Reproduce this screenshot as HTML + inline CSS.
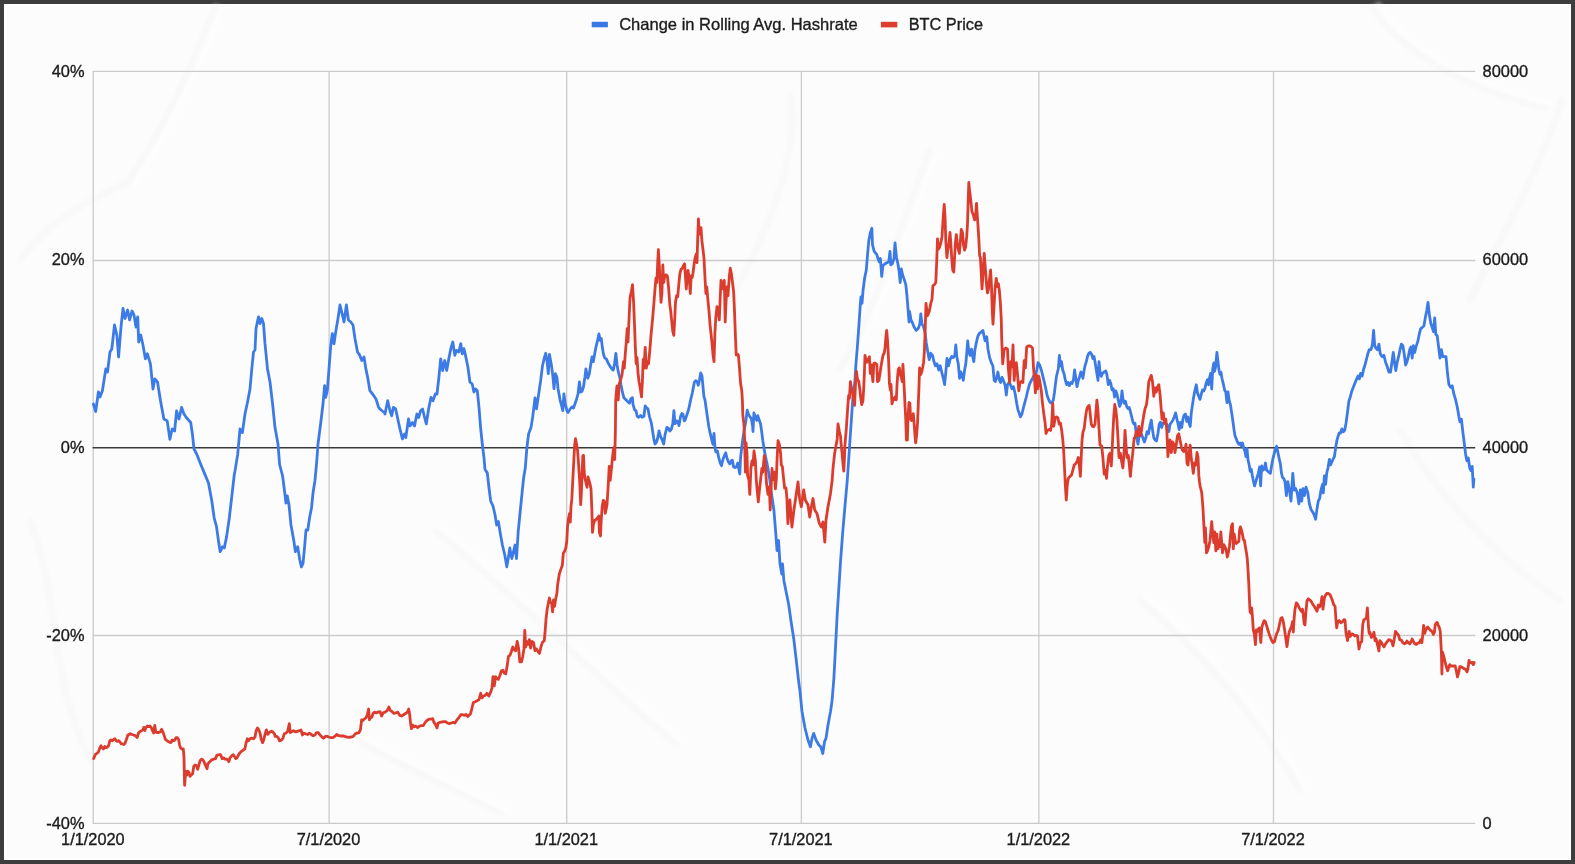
<!DOCTYPE html>
<html>
<head>
<meta charset="utf-8">
<title>Change in Rolling Avg. Hashrate vs BTC Price</title>
<style>
html,body{margin:0;padding:0;}
body{width:1575px;height:864px;overflow:hidden;background:#3d3d3d;font-family:"Liberation Sans",sans-serif;}
#frame{position:absolute;left:4px;top:4px;width:1567px;height:856px;background:#fcfcfc;box-shadow:inset 0 0 0 1px #ffffff;}
svg{position:absolute;left:0;top:0;filter:blur(0.45px);}
text{font-family:"Liberation Sans",sans-serif;font-size:16.4px;fill:#1c1c1c;stroke:#1c1c1c;stroke-width:0.35px;}
</style>
</head>
<body>
<div id="frame"></div>
<svg width="1575" height="864" viewBox="0 0 1575 864">
<!-- paper texture -->
<defs><filter id="soft" x="-20%" y="-20%" width="140%" height="140%"><feGaussianBlur stdDeviation="2.2"/></filter></defs>
<g filter="url(#soft)" fill="none" stroke-linecap="round">
<g stroke="#f2f2f2" stroke-width="5" opacity="0.45">
<path d="M216 6C196 55 170 120 128 182"/>
<path d="M128 182C90 200 55 215 20 260"/>
<path d="M435 530C520 600 600 680 676 744"/>
<path d="M360 742C410 770 455 790 502 814"/>
<path d="M1372 8C1405 55 1470 90 1545 108"/>
<path d="M1562 100C1540 170 1500 240 1470 300"/>
<path d="M930 150C900 230 880 300 840 370"/>
<path d="M790 95C800 150 770 230 730 300"/>
<path d="M1140 600C1200 650 1260 720 1300 790"/>
<path d="M1400 430C1440 500 1500 560 1560 600"/>
<path d="M30 520C60 600 50 680 90 760"/>
</g>
<g stroke="#ffffff" stroke-width="4" opacity="0.6">
<path d="M222 8C202 57 176 122 134 186"/>
<path d="M441 526C526 596 606 676 682 740"/>
<path d="M366 738C416 766 461 786 508 810"/>
<path d="M1378 4C1411 51 1476 86 1551 104"/>
<path d="M936 152C906 232 886 302 846 372"/>
<path d="M1146 596C1206 646 1266 716 1306 786"/>
</g>
</g>
<!-- gridlines -->
<g stroke="#cbcbcb" stroke-width="1.3" fill="none">
<line x1="92.6" y1="71.4" x2="1475.2" y2="71.4"/>
<line x1="92.6" y1="260.5" x2="1475.2" y2="260.5"/>
<line x1="92.6" y1="635.5" x2="1475.2" y2="635.5"/>
<line x1="92.6" y1="823.3" x2="1475.2" y2="823.3"/>
<line x1="93.2" y1="71.4" x2="93.2" y2="823.3"/>
<line x1="329.1" y1="71.4" x2="329.1" y2="823.3"/>
<line x1="566.7" y1="71.4" x2="566.7" y2="823.3"/>
<line x1="801.4" y1="71.4" x2="801.4" y2="823.3"/>
<line x1="1038.9" y1="71.4" x2="1038.9" y2="823.3"/>
<line x1="1273.5" y1="71.4" x2="1273.5" y2="823.3"/>
</g>
<line x1="92.6" y1="447.7" x2="1475.2" y2="447.7" stroke="#3a3a3a" stroke-width="1.35"/>
<!-- legend -->
<rect x="591.7" y="21.8" width="16.2" height="5.5" fill="#3877e6"/>
<text x="619.2" y="29.8" style="font-size:16.5px" textLength="238.5" lengthAdjust="spacingAndGlyphs">Change in Rolling Avg. Hashrate</text>
<rect x="880.9" y="21.8" width="16.4" height="5.6" fill="#de3c2d"/>
<text x="908.7" y="29.8" style="font-size:16.5px" textLength="74.3" lengthAdjust="spacingAndGlyphs">BTC Price</text>
<!-- left axis -->
<g text-anchor="end">
<text x="84.5" y="76.6">40%</text>
<text x="84.5" y="264.6">20%</text>
<text x="84.5" y="452.6">0%</text>
<text x="84.5" y="640.6">-20%</text>
<text x="84.5" y="828.6">-40%</text>
</g>
<!-- right axis -->
<g>
<text x="1482.6" y="76.6">80000</text>
<text x="1482.6" y="264.6">60000</text>
<text x="1482.6" y="452.6">40000</text>
<text x="1482.6" y="640.6">20000</text>
<text x="1482.6" y="828.6">0</text>
</g>
<!-- x axis -->
<g text-anchor="middle">
<text x="92.9" y="844.6" textLength="63.6" lengthAdjust="spacingAndGlyphs">1/1/2020</text>
<text x="328.5" y="844.6" textLength="63.6" lengthAdjust="spacingAndGlyphs">7/1/2020</text>
<text x="566.2" y="844.6" textLength="63.6" lengthAdjust="spacingAndGlyphs">1/1/2021</text>
<text x="800.9" y="844.6" textLength="63.6" lengthAdjust="spacingAndGlyphs">7/1/2021</text>
<text x="1038.4" y="844.6" textLength="63.6" lengthAdjust="spacingAndGlyphs">1/1/2022</text>
<text x="1273" y="844.6" textLength="63.6" lengthAdjust="spacingAndGlyphs">7/1/2022</text>
</g>
<!--CURVES--><g fill="none" stroke-linejoin="round" stroke-linecap="round" stroke-width="2.8">
<path id="blue" stroke="#3c7be6" d="M93.4 404L95.7 411.5L98.4 392L100 397L102.4 390.7L105.8 368.9L107.5 372L110 352L111.8 349L114.5 325L116.9 335.3L118.6 357L121 327L123 308.5L125 318.5L127.6 310L129.6 320L132 311L134 315L136 327L137.7 316.8L138.7 342L140.7 335L142.7 343.7L145.4 358.8L147.4 353.8L150.4 363.8L153 389L154.8 379L157.5 382L160.5 400.7L163.9 419L167.2 420.9L169.9 439.3L172.2 429L174.6 431L176.6 410.8L179 419L181.6 407.4L184 414L186.3 417.5L190.7 422.5L192.4 434L194 449L196.7 454L200.8 464.5L205 474.6L208.5 483L211.8 501L214.2 518L216.5 526.6L218.6 541.7L220.2 551.7L222.6 546.7L224.3 548L226.6 536.6L229.3 518L231.6 498L234.3 474.5L235 471L237.7 454.4L240 429L242.4 432.6L245 414L247.8 400.7L250 389L251.8 368.9L253.5 352L255 350L256 328.6L258.5 316.8L260 323.6L261.8 318.5L263.5 323.6L265 343.7L267.5 368.9L270 382L272.6 404L275 427.6L278 444L279.6 464.5L282.6 476L285 494.7L286 503L287.3 496L289 505L291 525L293.7 540L295.4 551.7L297.7 546.7L299.8 560L301.4 567L303 563.5L304.5 548L306 530L307.8 530L309.5 518L311.5 508L313 493L314.9 481L316.5 464.5L318 444L320.6 424L323 404L324.6 385.6L325.6 397.4L327.3 390.7L329 368.9L330.6 347L332.3 333.6L334 343.7L335.7 332L338 318.5L340 305L342.4 315L344 322L346.4 305L348.4 320L350.8 322L353 325L355 338.7L357.5 352L359.8 355.4L361.8 360.5L364 357L365.9 368.9L367.6 377L369.9 390.7L372.6 394L376 399L378.6 407.4L381 410L384.3 412.5L385 414L387.7 400.7L390 410.8L391.7 415.8L393.4 407.4L395.7 409L397.8 419L400 429L402.4 439L404.5 434L405.8 437.6L408.5 419L410 426L412.5 422.5L414.5 426L416.9 414L418.6 417.5L420.6 410.8L422.6 409L424.6 417.5L426.3 424L428.6 409L431 397.4L433 400.7L435.3 394L437 394L438.7 379L440.7 358.8L442.7 370.5L444.7 360.5L446.7 370.5L448.8 358.8L450.8 348.7L452.8 342L454.8 355.4L456.5 350.4L458.8 352L460.8 343.7L462.2 353.8L463.9 348.7L465.5 355.4L467.9 367L469.9 382L472.2 384L473.9 392L475.6 389L477.3 390.7L479 407.4L480.6 427.6L482.3 444L484 457.8L485 469.5L487.3 472.9L489 488L490.7 501L493 506L495 514.8L496.7 525L498.4 521.5L500 531.6L502.4 545L504.8 555L506.8 566.8L508.5 556.8L509.8 548L511.8 558.5L513.5 551.7L515 545L516.5 558.5L518.2 531.6L520.2 511.5L521.9 494.7L523.6 478L525.3 467.8L526.9 447.7L528.6 434L531 427.6L532.6 417.5L534.3 404L535 397.8L536.5 408.9L538.7 394L540.6 381L542.4 366.3L544.3 358L545.7 353.3L547.2 362.6L548.3 373.7L549.4 354.3L551.3 364.4L552.8 375.6L554 388.5L555.4 373.7L556.9 377.4L558 388.5L560 399.6L561.9 407L562.8 410.7L563.9 394L565.2 403.3L566.9 410.7L568 412.6L570.2 408.9L572 407L573.5 408L574.8 404.3L576.7 398.7L578 394L579.4 382L580.7 392L582 391.3L583.5 386.7L585 376.5L585.9 369L587.8 378.3L589.3 373.7L590.6 365.4L592 357L593.3 361.7L594.6 354.3L596 346.9L597.6 340.4L598.9 333.9L600.2 340.4L601.3 338.5L602.4 347.8L603.5 354.3L604.8 358L606.3 358.9L608 362.6L610 366.3L611.9 369L613.3 370L614.6 363.5L615.9 353.3L617 364.4L618.3 371.9L619.8 377.4L621 384.8L622.4 392.2L623.9 397.8L625.7 399.6L627.6 401.5L629.4 403.3L630.9 398.7L632.4 397.8L633 404.3L634.6 409.8L636 410.7L637.2 416.3L638.7 417.2L640.6 415.4L642 417.2L643.9 416.3L645.2 406L646.7 408L648 408.9L649.4 416.3L651.3 422.8L652.6 431L653.9 439.4L655 444L656.5 442.2L657.6 438.5L659 431L660.6 436.7L662 439.4L663.7 444L665 434.8L666.9 427.4L668.3 428.3L669.8 431L671.3 429.3L672.8 423.7L673.9 410.7L675 423.7L676.7 420.9L678 421.9L679 425.6L680.6 416.3L681.9 413.5L683 414.4L684.3 420.9L685 420.4L686.9 414.8L688.7 409.3L690.6 400L692.4 392.6L694.3 382.4L695.7 380.6L697 381.5L698.3 385.2L699.4 380.6L700.7 373L702 375.9L703 387L703.9 396.3L705 400L706.3 409.3L707.6 418.5L709 427.8L710.6 435.2L712 440.7L713 444.4L714 433.3L715 448L715.9 451.9L717.4 451L718.7 457.4L720.2 463L721.5 465.7L723 459.3L724.4 455.6L725.7 452.8L727 458.3L728.5 462L729.8 463.9L731.3 461L732.4 460.2L733.5 466.7L735 467.6L736.5 466.7L737.8 463L738.7 468.5L739.8 474L740.6 457.4L741.7 448L742.8 438.9L744.3 429.6L745.7 422.2L747.2 410.2L748.3 413.9L749.8 416.7L751.3 418.5L752.6 425.9L753 431.5L753.9 413L755.4 416.7L756.7 420.4L757.8 415.7L759 419.4L760.6 424L761.9 433.3L762.8 440.7L764.3 450L765.6 457.4L766.9 463L768.3 470.4L769.8 479.6L771 490.7L772.4 500L773.9 510L775.8 533.7L777 550.5L778.5 540.4L780 563.9L781.8 574L782.5 563.9L783.9 580.7L785.9 590.7L788.6 604L791 621L793.6 637.7L796 657.9L798.6 681L800 691.4L802 711.5L805 728L808 740L810.4 746.8L812 738.4L813.7 733.4L816 740L818.8 745L820.8 746.8L822.8 753.5L824.5 741.7L826 738.4L828 725L830.5 711.5L832 701.5L833.9 678L835.5 647.8L837.2 614L838.9 587.4L840.6 560.5L842.9 530L844.9 506.8L847.3 480L852.7 400L854.8 382.5L855.8 365.8L857.5 345L859 324L860.4 303.3L861 297L862 303.3L863 290.8L864.6 278.3L866.3 270L867.3 257.5L868.8 240.8L870.4 232.5L871.9 228.3L872.5 245L874.2 251.3L876.7 254.4L878 258.5L879.2 261.7L880.4 258.5L881.7 276.3L882.9 265.8L885 263.8L887 262.7L888.8 261.7L890 251.3L890.8 264.8L892.3 263.8L894 258.5L895 242.9L896.5 257.5L897.9 263.8L899.2 272L900.2 282.5L901.3 269L902.7 275.2L904.2 279.4L905.8 284.6L906.9 295L907.9 307.5L909 322L909.6 311.7L911 320L912.5 323L914.2 327.3L916.3 330.4L918.3 328.3L919.8 324.2L920.8 313.8L922 324.2L923.5 326.3L925 332.5L926.3 342.9L927.7 351.3L929.2 359.6L930.8 353.3L932.5 355.4L934 361.7L935.4 365.8L937 363.8L938.8 370L940.2 365.8L941.7 372L943.3 378.3L944.6 384.6L946 370L947 358.5L948.5 365.8L950 359.6L951.7 356.5L953.3 357.5L954.8 355.4L955.8 345L956.9 357.5L958.3 363.8L959.6 378.3L960.8 372L962 375.2L963.3 380.4L964.6 370L965.8 363.8L966.9 351.3L967.7 340.8L968.8 351.3L970 355.4L971.5 349.2L972.5 355.4L973.8 361.7L975 349.2L976.3 342.9L977.7 336.7L979.2 333.5L980.8 332.5L982.9 330.4L984.2 336.7L985 340.8L986.7 336.7L988 349.2L989.6 357.5L991.3 362.7L992.9 365.8L994.2 380.4L995.4 381.5L996.9 376.3L997.9 372L999.2 379.4L1000.6 382.5L1002 377.3L1003.8 381.5L1005.2 385.6L1006.3 395L1007.5 384.6L1009 382.5L1010.4 384.6L1012 388.8L1013.5 386.7L1015.2 394L1016.7 403.3L1017.9 409.6L1019.4 413.8L1020.4 416.9L1022 413.8L1023.5 407.5L1024.6 403.3L1026.3 397L1027.7 390.8L1029.4 384.6L1030.8 381.5L1032.5 378.3L1034 375.2L1035.4 376.3L1036.7 370L1038 362.7L1039.6 364.8L1041.3 370L1042.9 376.3L1044.4 382.5L1045.8 388.8L1047 395L1048.5 399.2L1050 402.3L1051.7 403.3L1053.3 400.2L1054.4 392.9L1055.4 384.6L1056.5 376.3L1057.5 372L1058.3 369L1059.4 355.4L1060.4 365.8L1061.5 361.7L1062.7 370L1064.2 374.2L1065.4 380.4L1066.7 384.6L1067.9 382.5L1069.4 385.6L1070.8 382.5L1072 383.5L1073.5 379.4L1074.6 370L1075.8 378.3L1077 386.7L1078.3 380.4L1079.8 376.3L1080.8 372L1082 373L1082.9 378.3L1084 371L1085 365.8L1086.3 361.7L1087.5 356.5L1088.8 353.3L1090.2 352.3L1091.7 354.4L1092.9 358.5L1094 356.5L1095 361.7L1096 367.9L1097 374.2L1098 380.4L1099 361.7L1100 372L1101.3 376.3L1102.7 373L1104.2 372L1105.8 371L1107 375.2L1108.3 384.6L1109.6 380.4L1110.8 383.5L1112 389.8L1113.3 388.8L1114.6 397L1115.8 390.8L1117 394L1118.3 400.2L1119.6 406.5L1120.8 403.3L1122 390.8L1123 399.2L1124.2 403.3L1125.4 401.3L1126.7 406.5L1127.9 408.5L1129.2 407.5L1130.4 411.7L1131.7 416.9L1132.9 422L1134.2 424.2L1135 423.3L1136.7 437.9L1138 444.2L1139.6 431.7L1141.3 433.8L1142.9 437.9L1144.4 442L1145.8 437.9L1147 431.7L1148.5 433.8L1150 425.4L1151.3 420.2L1152.5 429.6L1153.8 437.9L1155.2 440L1156.5 441L1157.9 433.8L1159.2 424.4L1160.4 422.3L1161.7 427.5L1163 423.3L1164.6 422.3L1165.8 423.3L1167.3 425.4L1168.8 431.7L1170 424.4L1171.5 422.3L1172.9 420.2L1174.2 417L1175.6 412.9L1176.7 418L1177.9 423.3L1179.2 429.6L1180.4 422.3L1181.7 427.5L1182.9 419.2L1184.2 415L1185.4 414L1186.7 421.3L1187.9 417L1189.2 423.3L1190.2 426.5L1191.3 412.9L1192.5 404.6L1193.8 396.3L1195 390L1196.3 384.8L1197.5 393L1198.8 396.3L1200 399.4L1201.3 394.2L1202.5 390L1203.8 391L1205 387.9L1206.3 382.7L1207.5 379.6L1208.5 384.8L1209.6 377.5L1210.6 373.3L1211.7 389L1212.7 369.2L1213.8 362.9L1214.6 371.3L1215.6 367L1216.9 352.5L1217.9 360.8L1219 370.2L1220 374.4L1221 372.3L1222 378.5L1223.3 383.8L1224.6 390L1225.8 392L1227 402.5L1228 392L1229.2 400.4L1230.4 404.6L1231.7 412.9L1232.9 421.3L1234 429.6L1235 435.8L1236.3 439L1237.5 442L1238.8 444.2L1240.2 443L1241.3 446.3L1242.5 443L1243.8 448.3L1245 451.5L1246 456.7L1247 448.3L1248 459.8L1249.2 465L1250.2 471.3L1251.3 469.2L1252.3 475.4L1253.3 480.6L1254.6 485.8L1255.8 481.7L1257 477.5L1258.3 473.3L1259.6 467L1260.6 485.8L1261.7 466L1262.9 470.2L1264.2 469.2L1265.4 463L1266.7 470.2L1267.9 471.3L1269.2 472.3L1270.4 473.3L1271.7 465L1272.9 458.8L1274.2 453.5L1275.4 449.4L1276.7 446.3L1277.9 452.5L1279.2 458.8L1280.4 464L1281.5 473.3L1282.5 477.5L1283.8 478.5L1285 481.7L1286.4 495.6L1287.8 481.7L1289.4 490L1291 501L1292.8 473.3L1294.2 490L1295.6 488.6L1297.2 492.8L1298.9 503.9L1300.3 490L1301.7 501L1303 488.6L1304.4 495.6L1306 487.2L1307.8 492.8L1309.4 503.9L1311 509.4L1312.8 512.2L1314.2 515L1315.6 519.2L1316.9 509.4L1318.3 501L1319.7 498.3L1321 490L1322.5 484.4L1323.3 492.8L1324.4 476L1325.6 484.4L1326.7 473.3L1328 467.8L1329.4 459.4L1330.6 465L1331.7 462.2L1333 459.4L1334.4 456.7L1335.6 448.3L1336.7 441.4L1337.8 437.2L1339.2 433L1340.6 433L1341.9 428.9L1343.3 431.7L1344.7 430.3L1346 423.3L1347.5 412.2L1348.9 401L1350.3 396.9L1351.7 391.4L1353.3 387.2L1355 383L1356.7 378.9L1358 376L1359.4 378.9L1360.6 373.3L1362.2 376L1363.6 369.2L1365 365L1366.4 359.4L1367.8 353.9L1369.2 349.7L1371 349.7L1372.5 344.2L1373.6 330.3L1374.7 345.6L1376 348.3L1377.5 349.7L1378.9 344.2L1380.3 353.9L1382.2 356.7L1383.9 355.3L1385.6 362.2L1387.2 366.4L1388.9 372L1390.6 372L1391.9 362.2L1393.3 352.5L1394.7 363.6L1395.8 370.6L1397.2 362.2L1398.6 356.7L1400 349.7L1401.4 344.2L1402.8 345.6L1404.2 353.9L1405.6 365L1406.9 362.2L1408.3 356.7L1409.7 349.7L1411 346.9L1412.2 358L1413.3 345.6L1414.7 352.5L1416 346.9L1417.8 341.4L1419.2 334.4L1420.6 328.9L1422.2 327.5L1423.9 326L1425.3 317.8L1426.7 310.8L1428 302.5L1429.4 315L1430.8 323.3L1432.2 327.5L1433.6 331.7L1434.7 317.8L1435.8 334.4L1437.2 335.8L1438.6 346.9L1440 358L1441.4 349.7L1442.8 356.7L1444.4 356.7L1446 356.7L1447.5 373.3L1448.9 384.4L1450.6 387.2L1452.2 385.8L1453.9 394.2L1455.6 399.7L1457.2 406.7L1458.9 416.4L1460 421.9L1461.4 419.2L1462.8 431.7L1464.2 442.8L1465.6 453.9L1466.9 460.8L1468.3 458L1469.7 467.8L1471 470.6L1472.2 466.4L1473.3 487.2L1473.9 478.9"/>
<path id="red" stroke="#dc3c2e" d="M93.7 758.6L95.2 754.7L96.7 753.5L98.4 752.2L99.6 748.4L100.9 745.8L102.2 747.7L103.5 749L104.7 746.5L106 747.7L107.3 747.1L108.6 745.8L109.8 740.7L111 740L112.4 740.7L113.6 739.5L114.9 738.8L116.2 740.7L117.5 741.4L118.7 740.7L120 742L121.3 743.9L122.6 743.9L123.8 744.6L125 743.3L126.4 739.5L127.6 735.6L128.9 734.4L130.2 733.7L131.5 734.4L133.4 735L135.3 735.6L137.2 737.6L138.5 733L139.7 731.8L141.7 730.6L142.9 729.9L143.8 727.4L144.8 730.6L146 727.4L147.4 726L148.7 726.7L149.9 726L151.2 727.4L152.5 730.6L153.7 733L154.8 725.5L155.7 731.8L156.9 732.5L158.8 732.5L160.4 731.8L161.6 729.3L162.9 731.8L164.2 735.6L165.5 739.5L167 740.7L169 742L170.9 742.6L172.2 740L173.5 740.7L174.8 740L176 737.6L177.3 737.6L178.6 739.5L179.5 744.6L180.5 747.7L181.8 749L183.3 749L184 757.3L184.6 785.3L185.3 776.4L186.2 771.3L187 775L188 771.3L189 772.6L190 776.4L191.3 775L192.6 773.8L193.8 766.2L195 765L196.4 765.6L197.7 769.4L198.9 765L200.2 760.5L201.5 759.2L202.8 759.8L204 761.7L205.3 765L207 768.7L207.9 763.7L209.8 761.7L211.7 759.8L213.6 759.2L215.5 758.6L216.8 755.4L218.7 754.7L220.6 754.7L222.2 758.6L223.8 757.9L225 759.2L227 759.2L228.9 761.7L230 757.9L232 755.4L233.3 754.7L234.6 756.7L235.9 758.6L237 757.9L239 754L241 751.6L242.9 750.3L244.8 749L246 743.3L247.3 738.8L248.6 740.7L249.9 738.8L251.8 738.2L253.7 738.8L255 736.9L256.2 730.6L257.5 728L258.8 729.9L260 733L261.3 739.5L262.6 742.6L263.9 739.5L265 734.4L266.4 729.9L267.7 734.4L269 733L270.2 731.8L271.5 731.2L273.4 732.5L274.7 734.4L275 736.4L276.9 736.4L278.2 737.7L279.5 740.8L281.4 740.2L282.9 738.3L284.2 733.8L285.8 733.2L287.7 731.3L289.3 723.7L290.3 732.6L291.5 731.9L293.5 730.7L295.4 731.9L297.3 731.3L299.2 730.7L301 730L302.4 735L303.6 733.2L305.6 733.8L307.5 734.5L309.4 733.2L311.3 734.5L313.2 735.7L315 735L316.4 732.6L318.3 732.6L319.6 734.5L321.5 736.4L323.4 738.3L325.3 736.4L327.2 736.4L329 737L331 737.7L332.9 737.7L334.8 736.4L336.7 734.5L338.7 735.7L341.2 736L343.7 736L346.3 736.8L348.8 737.4L351.4 737L353.3 736.4L355.2 733.8L357 733.2L359 732.6L360.5 729.4L361.6 719.8L362.8 720.5L364 719.2L366 717.9L367.3 714.7L368.6 709L369.5 719.8L370.5 717.3L371.8 717.3L373 713.5L374.3 712.2L376.2 712.8L378 712.2L380 711.6L381.6 716L383.2 712.8L385 712.2L387 710.9L388.9 707L390.2 710.3L392 711.6L394 713.5L396 712.8L397.8 712.2L399.8 715.4L401.7 716L403.6 714.7L405.5 713.5L407.4 712.2L408.7 709L409.7 714.7L410.6 723.7L411.5 728.7L412.5 724.9L413.8 726.8L415.7 726.2L417.6 727.5L419.5 726.2L421.4 725.6L423.3 725.6L425.2 722.4L427 720.5L429 719.2L431 719.2L432.6 718.6L434 722.4L435.7 724.9L437 728L438.2 723L439.9 722.4L441.8 722L443.7 721.7L445.6 721.7L447.5 723L449.4 723.7L451.3 723L453.2 722.4L455 723L457 719.8L459 717.3L460.9 714.7L462.8 714.7L464.7 715.4L466 714.5L467.8 716.5L470.6 713.7L472 708L473.3 702.6L475.2 701.7L477 700.7L478.9 699.8L480.7 693.3L482 698L483.5 696L485.4 695.2L486.9 693.3L488.7 696L490.6 692.4L492 687.8L493 676.7L494.3 685.9L495.6 676.7L496.9 678.5L498.3 679.4L499.8 675.7L501.3 671L502.8 670.2L504.3 673L505.7 673.9L507.2 665.6L508.5 656.3L510 655.4L511.3 651.7L512.8 647L514.3 649.8L515.7 650.7L517.2 641.5L518.7 648.9L519.8 661.9L521.5 661.9L522.8 656.3L523.9 648.9L524.8 630.4L525.7 647L527 641.5L528.3 644.3L529.4 639.6L530.6 648L532 641.5L533.5 642.4L535 650.7L536.5 648.9L538 651.7L539.4 653.5L540.9 647L542.4 642.4L544.3 640.6L545.2 630.4L546 619.3L547.2 609L548.3 603.5L549.4 598L550.6 602.6L551.7 603.5L552.6 611.9L553.5 599.8L554.6 606.3L555.7 598.9L556.9 593.3L557.6 585L559.3 574L561 568.9L562.3 565.4L563.3 553.3L564.5 551.5L565.8 548L566.8 541L567.5 527.2L568.5 518.5L569.6 513.3L570.3 522L571 506.4L571.8 499.4L572.7 482L573.8 461.3L574.6 445.6L575.5 438.7L576.5 443.9L577.6 450.8L578.6 464.7L579.7 482L580.7 504.7L581.4 492.5L582 475L582.8 456L583.5 455.2L584.2 471.7L584.9 478.6L585.9 482L587 487.3L588 476.9L589 480.3L590 483.8L591 489L591.8 508L592.5 532.4L593.5 523.8L594.9 520.3L596.3 519.4L597.7 517.7L598.8 516L599.4 532.4L600.5 536L601.2 520.3L602.2 506.4L603.3 500.3L604.3 501.2L605.3 513.3L606.4 508L607 504.7L607.8 492.5L608.5 480.3L609.2 466.5L610.2 480.3L611.3 470L612.3 459.5L613.2 450.8L614 447.4L614.7 459.5L615.4 430L615.7 400L616.5 390.4L617 385.8L618.2 400L619.3 383.6L620.8 379.2L622 374.8L623.5 361.6L624.3 368.2L625.2 355L626.3 341.9L627.2 328.7L628 341.9L629.2 315.5L630 297.9L631.4 291.3L632.5 284.7L633.6 302.3L634.5 324.3L635.3 346.3L636.2 363.8L637 357.3L638 372.6L639 381.4L640.2 388L641.5 396.8L642.4 381.4L643.2 359.5L644 368.2L645.2 347.4L646.3 368.2L647.4 361.6L648.5 363.8L649.8 350.7L651 335.3L652.5 319.9L653.8 304.5L655 289L656 278L656.9 282.5L657.7 262.7L658.4 249.6L659.3 265L660.2 284.7L661 302.3L661.9 293.5L662.8 265L663.7 282.5L664.8 276L666 274.8L667.4 276L668.7 289L669.8 304.5L670.7 311L671.6 319.9L672.7 330.9L673.8 335.3L674.7 319.9L675.5 302.3L676.6 295.7L677.7 296.8L678.8 284.7L679.9 273.7L681 269.3L682.4 268.2L683.7 265L684.6 263.8L685.4 276L686.3 289L687.2 276L688 270.4L689.2 278L690.3 293.5L691.2 276L692 278L692.9 273.7L694 265L695 258.4L696.2 254L697 262.7L697.7 238.6L698.4 218.8L699.3 232L700.2 234.2L701 227.6L701.9 240.8L703 249.6L704 258.4L705 278L705.9 293.5L706.8 286.9L707.9 300L709 311L710 324.3L711.2 335.3L712.3 346.3L713 355L714 361.6L714.9 333L715.8 317.7L717 306.7L718.2 311L719.3 319.9L720.2 297.9L721 280.3L722 282.5L723.2 289L724.3 280.3L725.2 322L726 302.3L727 286.9L728 295.7L729.2 278L730.3 268.2L731.4 273.7L732.5 282.5L733.6 291.3L734.5 311L735.3 333L736.2 355L737.3 354L738.4 355L739.5 368.2L740.6 383.6L741.7 390.2L742.4 400L742.8 414.8L743.9 424L744.6 438.9L745.4 472.2L746 442.6L747 453.7L747.6 475.9L748.9 479.6L749.8 494.4L750.9 468.5L752 461L753 464.8L754 451L755.4 461L756.3 479.6L757.2 490.7L758.3 501.9L759.4 490.7L760.6 479.6L761.9 468.5L762.8 472.2L764.3 455.6L765.6 468.5L766.5 483.3L768 494.4L769.3 487L770.2 510L771 490.7L772 468.5L773 479.6L774.3 472.2L775.4 488.9L776.3 479.6L777 461L778 440.7L779.4 444.4L780.6 453.7L781.3 464.8L782.4 466.7L783.5 477.8L784.6 488L786 488L786.9 498L787.9 523.6L789.9 500L791.9 527L793.9 510L795.9 496.8L798 482L799.6 498.5L801.3 506.8L803.7 490L805.3 500L808 505L809.7 517L811.4 506.8L813 498.5L814.7 510L817 513.6L819.4 523.6L821.4 527L823 522L824.8 542L826 520L828 506.8L830.5 493.4L832.2 480L833 468.5L834.6 453.7L835.9 446.3L837.2 438.9L838 424L839.4 431.5L840.5 436L841 442.8L842 452.5L843 464L843.8 471L844.5 458L844.9 445.6L846.3 428.9L847.6 409.4L848.6 395.6L849.4 398.3L850.4 381.7L851.4 387.2L852.5 392.8L853.6 399.7L854.6 405.3L855.6 381.7L856.4 371.3L857.4 378.9L858.8 381.7L859.9 390L860.8 398.3L861.7 404.6L862.9 401L863.6 390L864.4 373.3L865 355.3L866 360.8L867 362.2L868.2 359.4L869.4 356.7L870.3 373.3L871.3 365L872 373.3L872.9 381.7L873.8 363.6L874.7 362.9L875.8 363.6L876.8 364.3L877.5 381.7L878.9 380.3L880 373.3L881 366.4L882 360.8L883 355.3L884.2 353.2L885 348.3L885.8 338L886.7 330.4L887.5 340L888.3 353.9L888.9 367.8L889.4 383L890.3 390L891 384.4L892 403.9L893.2 398.3L894.2 399.7L895 396.9L896.3 399.7L897.2 381.7L898.3 369.2L899.3 367.8L900.4 374.7L901.4 377.5L902.2 381.7L902.9 364.3L903.6 376L904.3 390L905 405.3L905.7 417.8L906.4 440L907.4 440L908 417.8L909 402.5L909.9 403.2L910.6 419.2L911.5 420.6L912.5 419.9L913.3 413.6L914.3 426L915 435.8L915.7 442.8L916.7 434.4L917.5 423.3L918.2 406.7L918.9 388.6L919.6 367.8L920.6 374.7L921.7 372L922.6 367.8L923.6 362.2L924.4 351L925 335L926 303.3L927.5 315.8L929.2 311.7L930.8 303.3L932 299.2L932.9 285.6L934.4 284.6L935.8 282.5L936.7 261.7L937.5 238.8L938.5 249.2L939.6 247L940.8 242.9L942 236.7L943.3 215.8L944.2 204.4L945 215.8L945.8 240.8L946.9 257.5L947.9 249.2L949 242.9L950 232.5L950.8 242.9L951.7 257.5L952.7 270L953.8 272L954.6 257.5L955.4 242.9L956.3 234.6L957.3 242.9L958.3 249.2L959.4 253.3L960.4 240.8L961.3 229.4L962.5 232.5L963.5 245L964.6 250.2L965.6 247L966.7 236.7L967.5 224.2L968 207.5L968.8 182.5L969.6 190.8L970.4 197L971.3 205.4L972 211.7L973.3 214.8L974.6 220L975.6 215.8L976.5 203.3L977 211.7L977.9 224.2L978.8 238.8L979.6 255.4L980.4 257.5L981.3 274.2L982 288.8L983 274.2L984.2 253.3L985 263.8L985.8 274.2L986.7 286.7L987.5 292.9L988.5 288.8L989.6 278.3L990.6 270L991.5 286.7L992.3 311.7L993 324.2L994.2 303.3L995.2 286.7L996.3 278.3L997.3 286.7L998.3 283.5L999.4 290.8L1000.4 303.3L1001.3 320L1001.7 338.8L1002.7 363.8L1004.2 349.2L1005.8 348L1007.5 349.2L1008.3 367.9L1009.6 382.5L1010.8 361.7L1012 366.9L1013 345L1014.2 380.4L1015.2 367.9L1016.3 362.7L1017.5 374.2L1018.8 390.8L1020 382.5L1021.5 381.5L1022.9 382.5L1024.2 360.6L1025.4 367.9L1026.7 347L1028.3 346L1030.4 346L1032.5 348L1033.5 367.9L1034.6 380.4L1035.4 392.9L1036.5 375.2L1037.5 388.8L1038.8 376.3L1040 382.5L1041.3 390.8L1042.5 403.3L1043.8 413.8L1045 422L1046 433.5L1047.5 430.4L1049.2 429.4L1050.6 430.4L1051.7 424.2L1052.7 403.3L1053.8 426.3L1055.2 417.9L1056.5 416.9L1057.9 417.9L1059.2 424.2L1060.4 423L1061.7 430.4L1062.9 440.8L1063.8 453.3L1064.6 470L1065.4 486.7L1066.3 500L1067.3 484.6L1068.3 478.3L1070 476.3L1071.5 475.2L1072.9 470L1074.2 464.8L1075.6 463.8L1077 461.7L1078.3 457.5L1079.4 465.8L1080.4 476.3L1081.3 455.4L1082 440.8L1082.9 432.5L1084.2 428.3L1085.4 417.9L1086.7 409.6L1087.9 406.5L1089.2 405.4L1090.2 413.8L1091.3 424.2L1092.5 426.3L1093.8 426.7L1095 424.2L1096 411.7L1096.9 400.2L1097.9 409.6L1099 428.3L1100 445L1101.7 446L1102.9 457.5L1104.2 474.2L1105.4 470L1106.5 478.3L1107.5 465.8L1108.8 455.4L1110 453.3L1111.3 465.8L1112 453.3L1112.9 432.5L1113.8 415.8L1114.8 404.4L1115.8 409.6L1116.9 420L1117.9 436.7L1119 457.5L1120.4 453.3L1121.7 461.7L1122.9 467.9L1124 453.3L1125 430.4L1126 445L1127 457.5L1128.3 455.4L1129.4 465.8L1130.4 476.3L1131.5 463.8L1132.5 455.4L1133.5 445L1134.2 438L1135 437.9L1136.3 431.7L1137.5 435.8L1138.8 426.5L1140.2 435.8L1141.3 431.7L1142.5 423.3L1143.8 415L1145 408.8L1146.5 404.6L1147.5 396.3L1148.8 381.7L1150 378.5L1151.3 375.4L1152.5 381.7L1153.8 396.3L1155 387.9L1156.3 392L1157.5 386.9L1158.8 384.8L1160 394.2L1161 406.7L1162 419.2L1163.3 412.9L1164.6 423.3L1165.8 419.2L1166.9 431.7L1167.9 456.7L1169 446.3L1170 440L1171.3 452.5L1172.5 442L1173.8 444.2L1175 452.5L1176.3 444.2L1177.5 435.8L1178.8 433.8L1180 440L1181.3 446.3L1182.5 450.4L1183.8 451.5L1185 449.4L1186 444.2L1187 463L1188 465L1189.2 452.5L1190.2 445.2L1191.3 458.8L1192.3 465L1193.3 473.3L1194.6 463L1195.8 465L1197 452.5L1198 456.7L1198.8 475.4L1199.5 482L1200.2 486.3L1201.7 492.5L1202.9 507L1204 527.9L1204.8 542.5L1205.4 527.9L1206.5 552.9L1207.5 550.8L1208.8 546.7L1210 540.4L1210.8 532L1211.7 521.7L1212.7 534.2L1213.8 542.5L1214.8 532L1215.8 550.8L1216.9 534.2L1217.9 548.8L1219 540.4L1220 546.7L1220.8 532L1221.7 542.5L1222.5 552.9L1223.8 544.6L1225 546.7L1226.3 550.8L1227.3 557L1228.3 552.9L1229.4 546.7L1230.4 536.3L1231.5 525.8L1232.5 523.8L1233.3 548.8L1234.2 534.2L1235.2 540.4L1236.3 543.5L1237.5 542.5L1238.8 541.5L1239.6 530L1240.4 526.9L1241.5 530L1242.5 534.2L1243.3 539.4L1244.4 540.4L1245.4 546.7L1246.5 552.9L1247.3 559.2L1248 569.6L1248.8 584.2L1249.4 598.8L1250 611.3L1250.8 613.3L1251.7 608L1252.5 617.5L1253.3 630L1254.4 634.2L1255.4 644.6L1256.3 630L1257 632L1258.3 629L1259.6 627.9L1260.8 642.5L1261.7 627.9L1262.9 623.8L1264.2 620.6L1265.4 621.7L1266.7 625.8L1267.9 630L1269.2 634.2L1270.4 637.3L1271.7 640.4L1273 642.5L1274.6 641.5L1275.8 636.3L1277 633L1278.3 630L1279.6 623.8L1280.8 618.5L1282 617.5L1283.3 621.7L1284.6 630L1285.8 638.3L1287 646.7L1288 638.3L1289.2 632L1290.4 629L1291.7 625.8L1292.5 621.7L1293.3 632L1294.2 617.5L1295 609.2L1296.3 602.9L1297.5 604L1298.8 607L1300 609.2L1301.3 611.3L1302.5 609.2L1303.3 615.4L1304.2 623.8L1305 624.8L1305.8 613.3L1307 600.8L1308.3 598.8L1309.6 599.8L1310.8 600.8L1312 602.9L1313.3 605L1314.6 607L1315.8 609.2L1317 611.3L1318.3 605L1319.6 607L1320.8 604L1322 596.7L1323 609.2L1324.2 598.8L1325.4 595.6L1326.7 593.5L1328.3 593.5L1330 594.6L1331.3 597.7L1332.5 600.8L1333.8 605L1335 606L1335.8 617.5L1336.7 627.9L1337.7 621.7L1339.2 620.6L1340.8 622.7L1342.5 621.7L1344 619.6L1345 620L1346 633.3L1347.6 640.6L1349.2 631.3L1350.2 636.5L1351.8 633.9L1353.3 634.4L1354.9 636L1356.5 635.4L1357.5 636L1359 649L1360.4 642.7L1361.7 641.7L1362.7 625L1363.8 619.8L1365.3 618.8L1366.4 617.7L1367.4 607.8L1368.4 626L1369.2 633.3L1370 632.3L1371.3 637.5L1372.6 636.5L1374 632.3L1375 640.6L1376 638.5L1377.3 643.8L1378.9 651L1379.9 640.6L1381.5 642.7L1382.7 644.8L1384 646.9L1385.6 643.8L1387.2 641.7L1388.8 639.6L1390.3 640L1391.9 641.7L1393 645.8L1394.2 639.6L1395.5 631.3L1397 633.3L1398.6 635.4L1399.7 639.6L1401.3 640L1402.8 642.7L1404.4 643.8L1405.9 643.2L1407 641L1408.3 642.7L1409.8 643.8L1411 641.7L1412.2 639L1413.5 641.7L1414.8 643.8L1416.4 644.3L1417.9 643.2L1419.5 642.7L1420.8 639.6L1421.9 642.7L1422.9 633.3L1423.6 625.5L1424.7 633.3L1425.7 630.2L1426.8 628L1427.8 627L1429.4 629.2L1430.9 630.7L1432.3 631.8L1433.3 634.4L1434.4 632.3L1435.2 625L1436 623.4L1437.2 622.4L1438.2 625L1439.3 627.6L1440.3 631.3L1440.8 641.7L1441.4 652L1441.9 674L1442.4 652L1443.4 655.2L1444.5 659.4L1445.5 663.5L1446.6 667.7L1447.6 670.8L1448.6 667.7L1449.7 664.6L1450.7 666L1452.3 666L1453.9 666L1455.2 666L1456.3 670.8L1457.5 677L1458.8 671.9L1459.8 666.7L1461 666.7L1462.7 667.7L1464.3 668.8L1465.8 669.3L1467 671.9L1468 668.8L1469 660.4L1470 662.5L1471.3 663L1472.3 662.5L1473.3 664.6L1474.2 662.5"/>
</g><!--/CURVES-->
</svg>
</body>
</html>
